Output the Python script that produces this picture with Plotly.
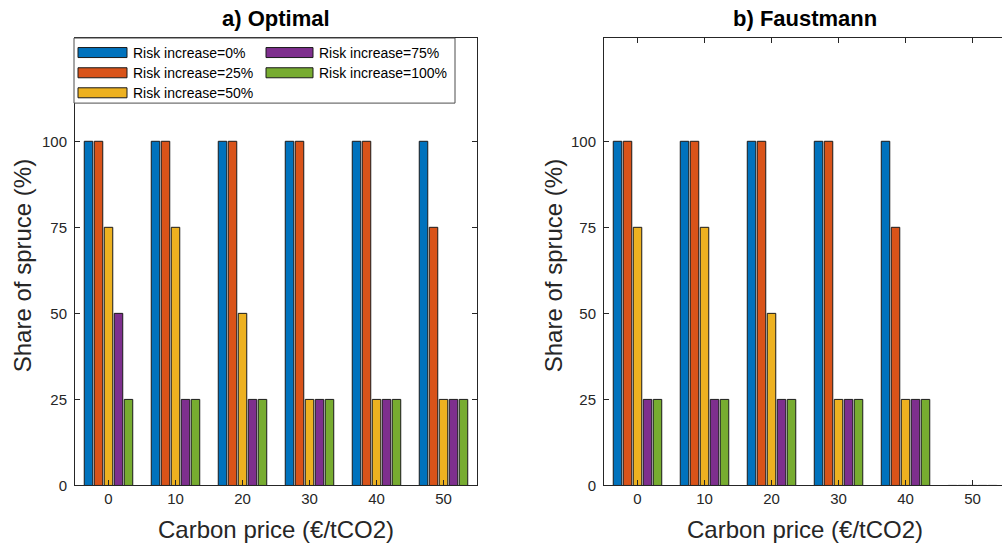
import plotly.graph_objects as go

# Carbon price categories (€/tCO2)
carbon_price = [0, 10, 20, 30, 40, 50]
risk_labels = ["Risk increase=0%", "Risk increase=25%", "Risk increase=50%",
               "Risk increase=75%", "Risk increase=100%"]
colors = ["#0072BD", "#D95319", "#EDB120", "#7E2F8E", "#77AC30"]

# Share of spruce (%) - optimal rotation
optimal_0 = [100, 100, 100, 100, 100, 100]
optimal_25 = [100, 100, 100, 100, 100, 75]
optimal_50 = [75, 75, 50, 25, 25, 25]
optimal_75 = [50, 25, 25, 25, 25, 25]
optimal_100 = [25, 25, 25, 25, 25, 25]

# Share of spruce (%) - Faustmann rotation
faust_0 = [100, 100, 100, 100, 100, 0]
faust_25 = [100, 100, 100, 100, 75, 0]
faust_50 = [75, 75, 50, 25, 25, 0]
faust_75 = [25, 25, 25, 25, 25, 0]
faust_100 = [25, 25, 25, 25, 25, 0]

y_ticks = [0, 25, 50, 75, 100]

optimal = [optimal_0, optimal_25, optimal_50, optimal_75, optimal_100]
faust = [faust_0, faust_25, faust_50, faust_75, faust_100]

W, H = 1002, 544
H_PLOT = 535.5  # effective vertical extent used for pixel -> paper conversion
AX = "#262626"

fig = go.Figure()
for i in range(5):
    fig.add_trace(go.Bar(x=carbon_price, y=optimal[i], name=risk_labels[i],
                         marker=dict(color=colors[i], line=dict(color="#1a1a1a", width=1)),
                         xaxis="x", yaxis="y", showlegend=False))
for i in range(5):
    fig.add_trace(go.Bar(x=carbon_price, y=faust[i], name=risk_labels[i],
                         marker=dict(color=colors[i], line=dict(color="#1a1a1a", width=1)),
                         xaxis="x2", yaxis="y2", showlegend=False))

def px_x(p):
    return p / W

def px_y(p):
    return 1 - p / H_PLOT

common_x = dict(tickvals=carbon_price, ticks="inside", ticklen=5, tickcolor=AX,
                showline=True, linecolor=AX, linewidth=1, mirror="ticks",
                showgrid=False, zeroline=False,
                tickfont=dict(family="Liberation Sans, Arial", size=15, color=AX))
common_y = dict(range=[0, 130], tickvals=y_ticks, ticks="inside", ticklen=5, tickcolor=AX,
                showline=True, linecolor=AX, linewidth=1, ticklabelstandoff=4,
                showgrid=False, zeroline=False,
                tickfont=dict(family="Liberation Sans, Arial", size=15, color=AX))

ydom = [px_y(485), px_y(38)]
fig.update_layout(
    width=W, height=H,
    margin=dict(l=0, r=0, t=0, b=0),
    paper_bgcolor="white", plot_bgcolor="white",
    barmode="group", bargap=0.254, bargroupgap=0.15,
    xaxis=dict(domain=[px_x(75), px_x(477)], range=[-5, 55], anchor="y", **common_x),
    yaxis=dict(domain=ydom, anchor="x", mirror="ticks", **common_y),
    xaxis2=dict(domain=[px_x(604), 1.0], range=[-5, 54.4], anchor="y2", **common_x),
    yaxis2=dict(domain=ydom, anchor="x2", mirror=False, **common_y),
)

title_font = dict(family="Liberation Sans, Arial", size=22, color="black")
label_font = dict(family="Liberation Sans, Arial", size=24, color=AX)
ann = [
    dict(text="<b>a) Optimal</b>", x=px_x(276), y=px_y(18), font=title_font),
    dict(text="<b>b) Faustmann</b>", x=px_x(805), y=px_y(18), font=title_font),
    dict(text="Carbon price (€/tCO2)", x=px_x(276), y=px_y(529), font=label_font),
    dict(text="Carbon price (€/tCO2)", x=px_x(805), y=px_y(529), font=label_font),
    dict(text="Share of spruce (%)", x=px_x(22), y=px_y(266), font=label_font, textangle=-90),
    dict(text="Share of spruce (%)", x=px_x(553), y=px_y(266), font=label_font, textangle=-90),
]
annotations = []
for a in ann:
    a.update(xref="paper", yref="paper", showarrow=False, xanchor="center", yanchor="middle")
    annotations.append(a)

# Legend box drawn inside panel a, two columns filled top-to-bottom
shapes = [dict(type="rect", xref="paper", yref="paper",
               x0=px_x(74), x1=px_x(455), y0=px_y(103), y1=px_y(38),
               line=dict(color="#4d4d4d", width=1), fillcolor="white", layer="above")]
leg_font = dict(family="Liberation Sans, Arial", size=14, color="black")
col_x = [(78, 127, 131), (266, 313, 317)]
row_y = [52.5, 72.7, 92.7]
for i, lab in enumerate(risk_labels):
    c = 0 if i < 3 else 1
    r = i if i < 3 else i - 3
    sx0, sx1, tx = col_x[c]
    cy = row_y[r]
    shapes.append(dict(type="rect", xref="paper", yref="paper",
                       x0=px_x(sx0), x1=px_x(sx1), y0=px_y(cy + 5), y1=px_y(cy - 5),
                       line=dict(color="#1a1a1a", width=1), fillcolor=colors[i], layer="above"))
    annotations.append(dict(text=lab, xref="paper", yref="paper", x=px_x(tx), y=px_y(cy),
                            xanchor="left", yanchor="middle", showarrow=False, font=leg_font))

fig.update_layout(shapes=shapes, annotations=annotations)
fig.write_html("out.html")
